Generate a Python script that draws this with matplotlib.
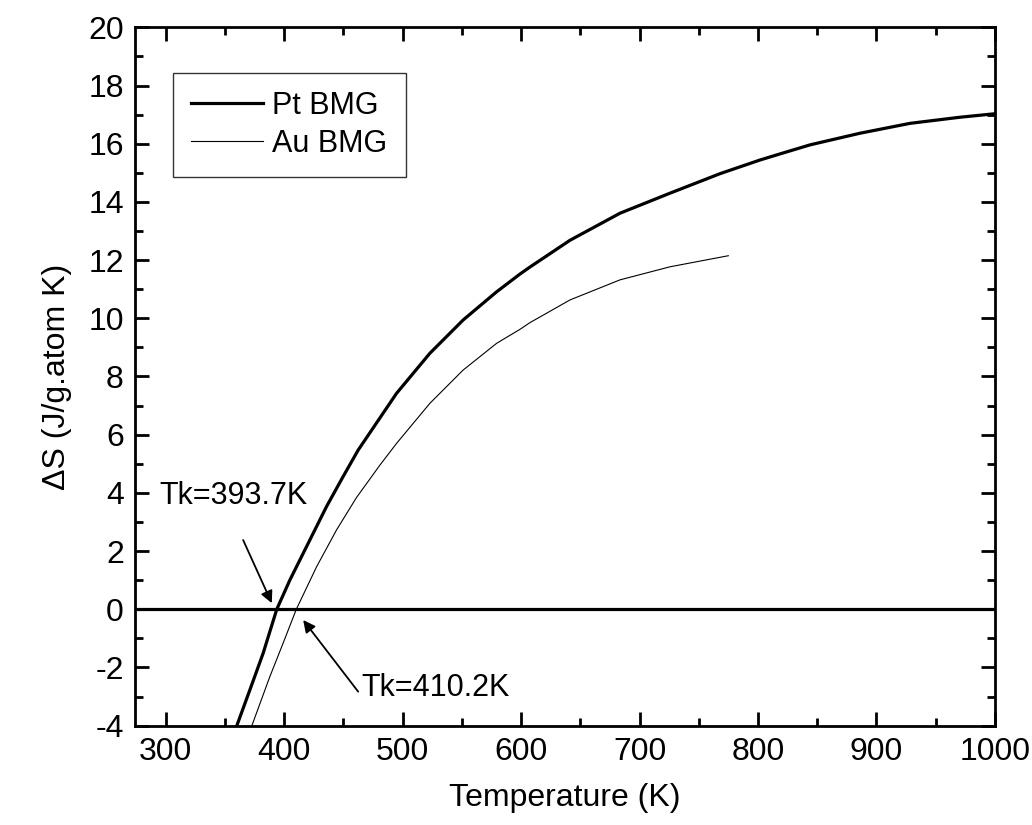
import numpy as np
import matplotlib.pyplot as plt
from matplotlib.ticker import MultipleLocator

plt.rcParams['font.family'] = ['Liberation Sans', 'DejaVu Sans']
plt.rcParams['axes.unicode_minus'] = False

# values
pt_T = [359.7, 371, 382.2, 393.7, 404.7, 418.8, 435.7, 449.7, 462.4, 494.8,
        523, 551, 579.3, 599, 607.4, 641.2, 683.4, 725.7, 767.9, 801.7, 818.6, 843.9,
        886.1, 928.4, 970.6, 1000]
pt_S = [-4.03, -2.77, -1.51, 0.0, 1.0, 2.15, 3.53, 4.56, 5.47, 7.42,
        8.8, 9.94, 10.91, 11.52, 11.76, 12.68, 13.61, 14.3, 14.97, 15.44, 15.65, 15.96,
        16.36, 16.7, 16.91, 17.03]
au_T = [372.4, 387.8, 399, 410.2, 427.3, 444.2, 461, 480.7, 494.8, 523, 551, 579.3,
        599, 607.4, 641.2, 683.4, 725.7, 774.9]
au_S = [-4.03, -2.32, -1.17, 0.0, 1.46, 2.73, 3.84, 4.95, 5.7, 7.08, 8.22, 9.14,
        9.62, 9.85, 10.63, 11.32, 11.77, 12.15]

fig = plt.figure(figsize=(10.32, 8.25), dpi=100)
ax = fig.add_axes([0.1308, 0.1204, 0.8333, 0.8465])

ax.plot(pt_T, pt_S, color='black', lw=2.3, label='Pt BMG')
ax.plot(au_T, au_S, color='black', lw=0.8, label='Au BMG')
ax.axhline(0, color='black', lw=2.3)

ax.set_xlim(274, 1000)
ax.set_ylim(-4, 20)
ax.xaxis.set_major_locator(MultipleLocator(100))
ax.xaxis.set_minor_locator(MultipleLocator(50))
ax.yaxis.set_major_locator(MultipleLocator(2))
ax.yaxis.set_minor_locator(MultipleLocator(1))
ax.tick_params(which='both', direction='in', top=True, right=True, width=2, labelsize=23)
ax.tick_params(which='major', length=10, pad=8)
ax.tick_params(which='minor', length=5.5)
for s in ax.spines.values():
    s.set_linewidth(2)

ax.set_xlabel('Temperature (K)', fontsize=23, labelpad=12)
ax.set_ylabel('ΔS (J/g.atom K)', fontsize=23, labelpad=12)

arrow = dict(arrowstyle='-|>', color='black', lw=1.3, mutation_scale=18, shrinkA=0, shrinkB=0)
ax.annotate('', xy=(389.5, 0.21), xytext=(365.3, 2.38), arrowprops=arrow)
ax.annotate('', xy=(416, -0.37), xytext=(462.4, -2.83), arrowprops=arrow)
ax.text(295, 3.9, 'Tk=393.7K', fontsize=22, ha='left', va='center')
ax.text(465.3, -2.71, 'Tk=410.2K', fontsize=22, ha='left', va='center')

leg = ax.legend(loc='upper left', bbox_to_anchor=(0.044, 0.935), borderaxespad=0,
                fontsize=22, frameon=True, fancybox=False, handlelength=2.35,
                handletextpad=0.3, borderpad=0.6, labelspacing=0.25)
leg.get_frame().set_edgecolor('black')
leg.get_frame().set_linewidth(1.0)

fig.savefig('out.png', dpi=100)
